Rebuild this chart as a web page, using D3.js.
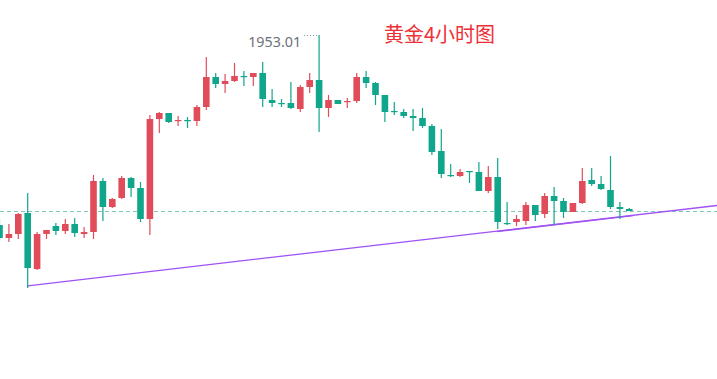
<!DOCTYPE html>
<html>
<head>
<meta charset="utf-8">
<script src="https://cdn.jsdelivr.net/npm/d3@7"></script>
<style>
html,body{margin:0;padding:0;background:#fff;}
svg{display:block;}
</style>
</head>
<body>
<svg id="chart" width="717" height="379"></svg>
<script>
// Gold 4H candles (red = up, green = down)
const opens  = [1901.71,1898.20,1899.28,1904.95,1889.83,1899.28,1901.44,1900.09,1901.98,1899.28,
                1899.82,1913.59,1906.57,1909.00,1914.40,1911.70,1903.33,1930.33,1931.95,1929.79,
                1930.06,1929.79,1933.57,1941.67,1939.78,1940.59,1941.94,1941.67,1942.75,1935.46,
                1934.65,1934.65,1933.03,1938.97,1940.86,1933.30,1935.46,1934.92,1935.19,1941.67,
                1940.05,1936.81,1932.49,1932.22,1931.14,1930.60,1928.44,1921.69,1915.21,1914.94,
                1916.29,1916.02,1910.89,1914.67,1902.25,1902.52,1902.79,1907.11,1904.68,1909.54,
                1908.19,1905.22,1907.65,1913.86,1912.78,1911.16,1906.57,1906.03];
const highs  = [1903.33,1901.98,1904.95,1910.35,1899.82,1900.36,1902.25,1903.33,1903.60,1901.17,
                1915.21,1914.40,1909.00,1914.94,1914.67,1913.32,1931.41,1932.22,1931.95,1931.14,
                1930.87,1934.11,1947.07,1942.75,1942.48,1945.45,1943.29,1942.75,1945.72,1938.43,
                1935.73,1940.32,1939.51,1942.75,1953.01,1936.81,1935.46,1936.00,1942.75,1943.29,
                1940.32,1936.81,1934.92,1933.03,1933.03,1933.30,1928.98,1927.63,1918.18,1916.83,
                1916.29,1918.72,1917.64,1919.80,1907.92,1904.41,1907.92,1907.11,1910.35,1911.97,
                1909.00,1907.65,1917.10,1917.10,1914.94,1920.34,1907.92,1906.30];
const lows   = [1897.39,1897.12,1897.93,1884.70,1889.56,1897.93,1899.01,1899.28,1898.47,1898.20,
                1897.93,1902.79,1906.30,1908.73,1909.27,1902.52,1899.01,1926.55,1929.25,1928.44,
                1927.90,1928.44,1932.76,1938.70,1937.35,1940.32,1939.24,1939.24,1933.57,1933.57,
                1933.57,1933.03,1932.22,1937.35,1926.82,1930.87,1934.38,1933.30,1934.65,1938.70,
                1934.11,1929.52,1931.41,1930.60,1927.09,1927.90,1920.61,1914.40,1914.67,1914.67,
                1913.05,1910.89,1910.35,1900.63,1901.71,1901.44,1901.71,1902.79,1903.60,1901.71,
                1903.60,1905.22,1907.38,1912.24,1911.16,1906.03,1903.33,1905.49];
const closes = [1898.20,1899.28,1904.68,1890.10,1899.28,1900.36,1900.09,1901.98,1899.55,1899.82,
                1913.59,1906.57,1908.73,1914.40,1911.70,1903.33,1930.33,1931.95,1929.52,1930.06,
                1929.79,1933.57,1941.67,1939.78,1940.59,1941.94,1941.67,1942.75,1935.73,1934.65,
                1934.38,1933.30,1938.97,1940.86,1933.30,1935.46,1934.38,1935.19,1941.67,1940.05,
                1936.81,1932.22,1932.22,1931.14,1930.60,1928.44,1921.42,1915.48,1914.94,1916.02,
                1916.02,1910.89,1914.67,1902.52,1901.98,1903.33,1907.11,1904.41,1909.54,1908.19,
                1905.22,1907.65,1913.59,1912.78,1911.43,1906.57,1906.03,1905.49];

const highLabel = "1953.01";
const title = "黄金4小时图";
const lastPrice = 1905.49;
// support trend line: [index, price] endpoints
const trendIdx = [3, 76.33];
const trendPrice = [1885.3, 1906.97];
const trend2Idx = [52.9, 67.4];

const W = 717, H = 379;
const svg = d3.select("#chart");
const x = d3.scaleLinear().domain([0, 67]).range([-0.5, 629.3]);
const y = d3.scaleLinear().domain([1885, 1953.01]).range([286.89, 35]);
const UP = "#e04c5a", DOWN = "#0fa68b";
const bw = 6.6;

const data = opens.map((o, i) => ({i, o, h: highs[i], l: lows[i], c: closes[i]}));

// last price dashed line
svg.append("line")
  .attr("x1", 0).attr("x2", W)
  .attr("y1", Math.round(y(lastPrice)) + 0.5).attr("y2", Math.round(y(lastPrice)) + 0.5)
  .attr("stroke", "#7fcab7").attr("stroke-width", 1).attr("stroke-dasharray", "4,3");

// trend lines
const tline = d3.scaleLinear().domain(trendIdx).range(trendPrice);
svg.append("line")
  .attr("x1", x(trendIdx[0])).attr("y1", y(trendPrice[0]))
  .attr("x2", x(trendIdx[1])).attr("y2", y(trendPrice[1]))
  .attr("stroke", "#a052f5").attr("stroke-width", 1.3);
svg.append("line")
  .attr("x1", x(trend2Idx[0])).attr("y1", y(tline(trend2Idx[0])) + 0.4)
  .attr("x2", x(trend2Idx[1])).attr("y2", y(tline(trend2Idx[1])) + 0.4)
  .attr("stroke", "#a052f5").attr("stroke-width", 1.3);

// candles
const g = svg.append("g");
const cand = g.selectAll("g.c").data(data).join("g").attr("class", "c");
cand.append("line")
  .attr("x1", d => x(d.i)).attr("x2", d => x(d.i))
  .attr("y1", d => y(d.h)).attr("y2", d => y(d.l))
  .attr("stroke", d => d.c >= d.o ? UP : DOWN).attr("stroke-width", 1.2);
cand.append("rect")
  .attr("x", d => x(d.i) - bw / 2)
  .attr("width", bw)
  .attr("y", d => y(Math.max(d.o, d.c)))
  .attr("height", d => Math.max(1.2, Math.abs(y(d.o) - y(d.c))))
  .attr("fill", d => d.c >= d.o ? UP : DOWN);

// high label
const hi = data.reduce((a, b) => b.h > a.h ? b : a);
svg.append("line")
  .attr("x1", x(hi.i) - 15).attr("x2", x(hi.i) - 1)
  .attr("y1", y(hi.h) + 0.5).attr("y2", y(hi.h) + 0.5)
  .attr("stroke", "#8a8f99").attr("stroke-width", 1).attr("stroke-dasharray", "1,2");
svg.append("text")
  .attr("x", x(hi.i) - 18).attr("y", y(hi.h) + 11.5)
  .attr("text-anchor", "end")
  .attr("font-family", "'Noto Sans', 'Open Sans', sans-serif")
  .attr("font-size", 14.3).attr("fill", "#6b7079")
  .text(highLabel);

// title
svg.append("text")
  .attr("x", 384).attr("y", 42)
  .attr("font-family", "'Noto Sans CJK SC', sans-serif")
  .attr("font-size", 20).attr("fill", "#ee2f36")
  .text(title);
</script>
</body>
</html>
